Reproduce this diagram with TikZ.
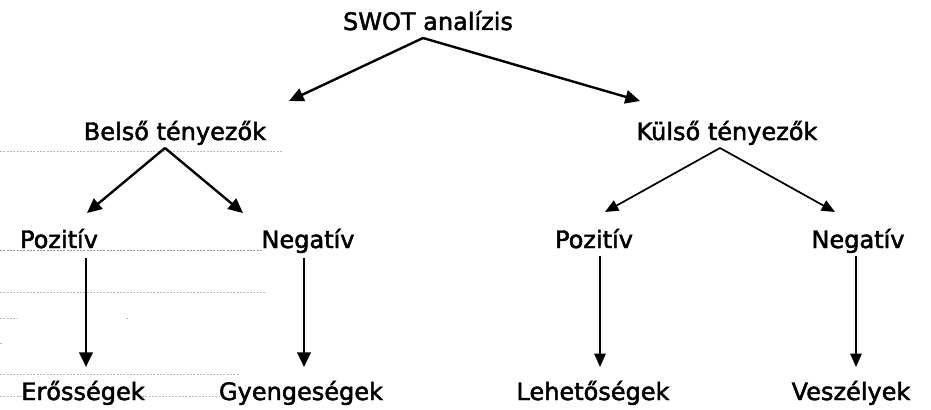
\documentclass[tikz,border=0pt]{standalone}
\usepackage{fontspec}
\setmainfont{DejaVu Sans}[AutoFakeBold=2]
\usetikzlibrary{arrows.meta}
\begin{document}
\begin{tikzpicture}[x=0.75pt,y=-0.75pt,
  lbl/.style={anchor=base,inner sep=0pt,font=\fontsize{18}{21}\selectfont\bfseries},
  arr/.style={line width=1.8pt,-{Triangle[length=11pt,width=10pt]}},
  thinarr/.style={line width=1.3pt,-{Triangle[length=10pt,width=8.5pt]}},
  rule/.style={gray!55,line width=0.7pt,dash pattern=on 1.5pt off 1pt}]
\useasboundingbox (0,0) rectangle (931,410);
% faint ruled lines on the left margin
\draw[rule] (0,151) -- (283,151);
\draw[rule,gray!80] (0,250) -- (262,250);
\draw[rule] (0,292) -- (265,292);
\draw[rule] (0,318) -- (17,318);
\draw[rule] (126,318) -- (128,318);
\draw[rule] (0,343) -- (3,343);
\draw[rule] (0,374) -- (240,374);
\draw[rule] (0,396) -- (22,396);
\draw[rule] (142,396) -- (220,396);
% labels
\node[lbl] (swot) at (428,30) {SWOT analízis};
\node[lbl] (belso) at (175,140) {Belső tényezők};
\node[lbl] (kulso) at (727,140) {Külső tényezők};
\node[lbl] (bpoz) at (59,248) {Pozitív};
\node[lbl] (bneg) at (308,248) {Negatív};
\node[lbl] (kpoz) at (594,248) {Pozitív};
\node[lbl] (kneg) at (858,248) {Negatív};
\node[lbl] (eros) at (83,400) {Erősségek};
\node[lbl] (gyen) at (301,400) {Gyengeségek};
\node[lbl] (lehe) at (593,400) {Lehetőségek};
\node[lbl] (vesz) at (851,400) {Veszélyek};
% connector end points
\coordinate (swotA) at (423,38);
\coordinate (belsoT) at (289,101);
\coordinate (kulsoT) at (640,101);
\coordinate (belsoA) at (165,148);
\coordinate (bpozT) at (87,213);
\coordinate (bnegT) at (243,213);
\coordinate (kulsoA) at (720,148);
\coordinate (kpozT) at (605,212);
\coordinate (knegT) at (835,212);
% connectors
\draw[arr] (swotA) -- (belsoT);
\draw[arr] (swotA) -- (kulsoT);
\draw[arr] (belsoA) -- (bpozT);
\draw[arr] (belsoA) -- (bnegT);
\draw[thinarr] (kulsoA) -- (kpozT);
\draw[thinarr] (kulsoA) -- (knegT);
\draw[arr,line width=2.1pt] (86,258) -- (86,367);
\draw[arr,line width=2.1pt] (304,258) -- (304,367);
\draw[thinarr] (600,256) -- (600,367);
\draw[thinarr] (856,256) -- (856,367);
\end{tikzpicture}
\end{document}
